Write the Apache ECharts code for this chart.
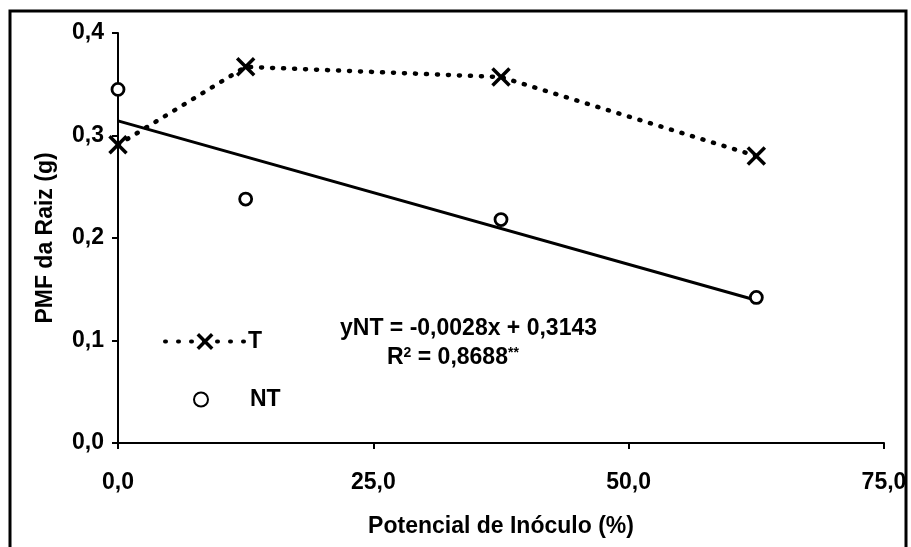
<!DOCTYPE html>
<html><head><meta charset="utf-8">
<script src="https://cdn.jsdelivr.net/npm/echarts@6/dist/echarts.min.js"></script>
<style>html,body{margin:0;padding:0;background:#fff}#c{width:911px;height:547px}</style>
</head><body><div id="c"></div>
<script>
const xValues = [0, 12.5, 37.5, 62.5];
const tValues = [0.291, 0.367, 0.357, 0.280];
const ntValues = [0.345, 0.238, 0.218, 0.142];
const trendX = [0, 62.5];
const trendY = [0.3143, 0.1393];
const xTicks = ['0,0', '25,0', '50,0', '75,0'];
const yTicks = ['0,0', '0,1', '0,2', '0,3', '0,4'];
const equationText = 'yNT = -0,0028x + 0,3143';
const r2Text = '0,8688';

const font = '"Liberation Sans", Arial, sans-serif';
const xMark = 'path://M0,0 L20,20 M20,0 L0,20';
const legendText = {fontFamily: font, fontSize: 23, fontWeight: 'bold', color: '#000', padding: [0, 0, 0, -2]};

const chart = echarts.init(document.getElementById('c'), null, {renderer: 'canvas'});
chart.setOption({
  animation: false,
  backgroundColor: '#fff',
  grid: {left: 118, right: 27, top: 33, bottom: 104},
  xAxis: {
    type: 'value', min: 0, max: 75, interval: 25,
    name: 'Potencial de Inóculo (%)', nameLocation: 'middle', nameGap: 72, nameMoveOverlap: false,
    nameTextStyle: {fontFamily: font, fontSize: 23, fontWeight: 'bold', color: '#000'},
    axisLine: {lineStyle: {color: '#000', width: 2}},
    axisTick: {show: true, length: 6, lineStyle: {color: '#000', width: 2}},
    axisLabel: {margin: 28, fontFamily: font, fontSize: 23, fontWeight: 'bold', color: '#000',
      formatter: v => xTicks[Math.round(v / 25)]},
    splitLine: {show: false}
  },
  yAxis: {
    type: 'value', min: 0, max: 0.4, interval: 0.1,
    name: 'PMF da Raiz (g)', nameLocation: 'middle', nameGap: 61, nameMoveOverlap: false,
    nameTextStyle: {fontFamily: font, fontSize: 23, fontWeight: 'bold', color: '#000'},
    axisLine: {show: true, lineStyle: {color: '#000', width: 2}},
    axisTick: {show: true, length: 6, lineStyle: {color: '#000', width: 2}},
    axisLabel: {margin: 14, fontFamily: font, fontSize: 23, fontWeight: 'bold', color: '#000',
      formatter: v => yTicks[Math.round(v * 10)]},
    splitLine: {show: false}
  },
  legend: [
    {
      data: [{name: 'T', itemStyle: {color: '#000', borderColor: '#000', borderWidth: 3.5},
              lineStyle: {color: '#000', width: 4, type: [1, 12], cap: 'round'}}],
      left: 158, top: 325, itemWidth: 80, itemHeight: 18, textStyle: legendText
    },
    {
      data: ['NT'], left: 188, top: 383, itemWidth: 14, itemHeight: 14,
      textStyle: Object.assign({}, legendText, {padding: [0, 0, 0, 37]})
    }
  ],
  series: [
    {
      name: 'T', type: 'line', data: xValues.map((x, i) => [x, tValues[i]]),
      symbol: xMark, symbolSize: 17, showSymbol: true,
      itemStyle: {color: '#000', borderColor: '#000', borderWidth: 3.5},
      lineStyle: {type: [1, 10], width: 4.5, color: '#000', cap: 'round'}
    },
    {
      name: 'NT', type: 'scatter', data: xValues.map((x, i) => [x, ntValues[i]]),
      symbol: 'circle', symbolSize: 12,
      itemStyle: {color: '#fff', borderColor: '#000', borderWidth: 2.8, opacity: 1}
    },
    {
      name: 'trend', type: 'line', data: trendX.map((x, i) => [x, trendY[i]]),
      symbol: 'none', lineStyle: {color: '#000', width: 3}, z: 1
    }
  ],
  graphic: [
    {type: 'rect', shape: {x: 10, y: 11, width: 896, height: 560},
      style: {fill: 'none', stroke: '#000', lineWidth: 3}},
    {type: 'text', left: 340, top: 317,
      style: {text: equationText, font: 'bold 23px ' + font, fill: '#000'}},
    {type: 'text', left: 387, top: 346,
      style: {text: '{a|R}{s|2}{a| = ' + r2Text + '}{s|**}',
        rich: {a: {font: 'bold 23px ' + font, fill: '#000', verticalAlign: 'bottom'},
               s: {font: 'bold 14px ' + font, fill: '#000', verticalAlign: 'top'}}}}
  ]
});
</script></body></html>
